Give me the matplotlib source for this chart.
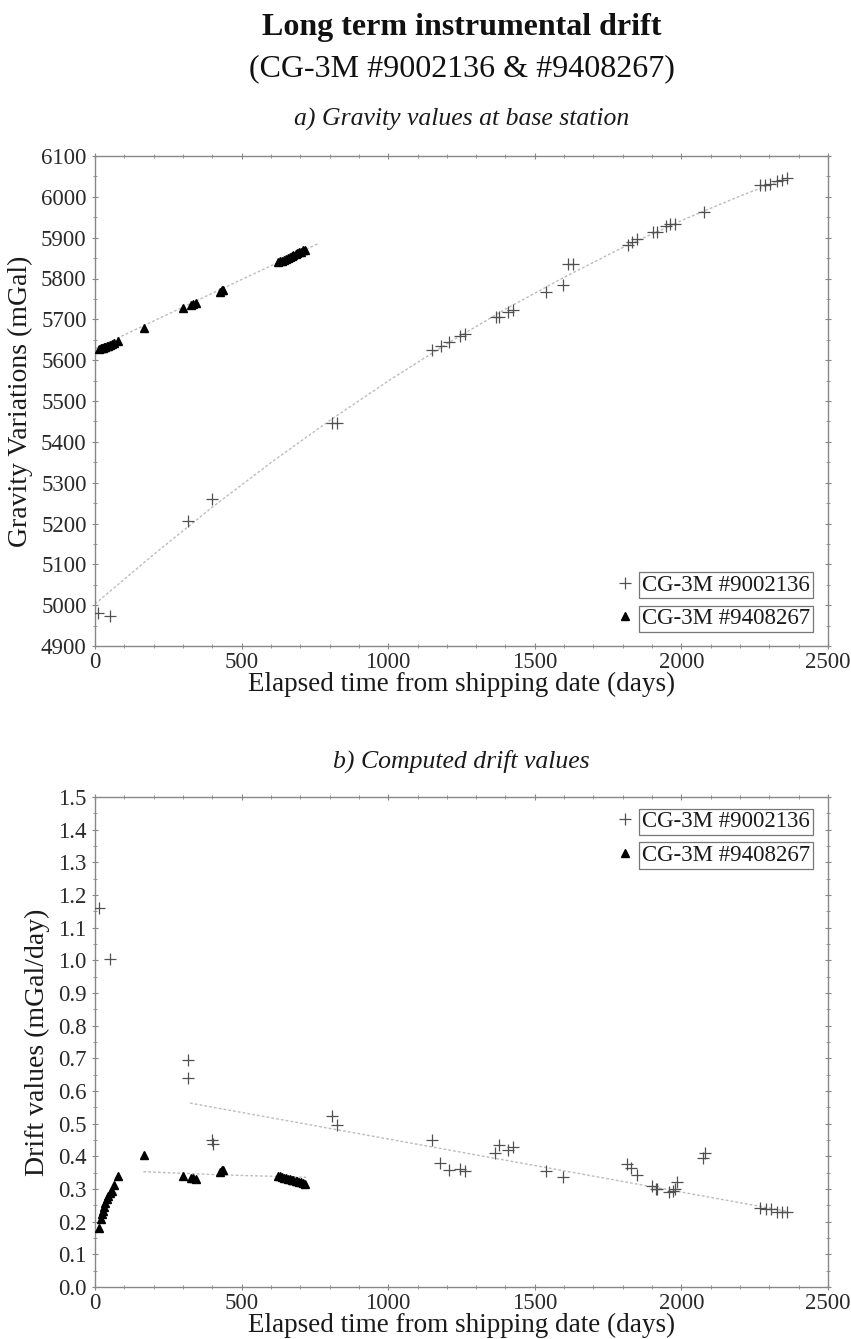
import matplotlib
matplotlib.use("Agg")
import matplotlib.pyplot as plt
from matplotlib.ticker import MultipleLocator

# --- data ---
# CG-3M #9002136 (crosses), panel a: gravity at base station
days_a1 = [11, 51, 318, 398, 810, 825, 1150, 1179, 1207, 1245, 1262, 1367, 1378,
           1410, 1425, 1538, 1595, 1614, 1631, 1817, 1833, 1848, 1904, 1916, 1946,
           1961, 1978, 2077, 2268, 2285, 2302, 2325, 2342, 2359]
grav_a1 = [4981, 4973, 5207, 5259, 5447, 5447, 5625, 5634, 5644, 5659, 5665, 5705, 5705,
           5718, 5722, 5767, 5785, 5836, 5836, 5883, 5889, 5896, 5914, 5914, 5928,
           5933, 5934, 5964, 6028, 6030, 6032, 6039, 6042, 6045]

# CG-3M #9408267 (triangles), panel a
days_a2 = [14, 19, 23, 27, 31, 35, 40, 45, 50, 57, 65, 80, 167, 301, 327, 335, 344,
           426, 432, 435, 625, 632, 638, 645, 651, 658, 664, 671, 677, 684, 690, 697,
           703, 710, 716]
grav_a2 = [5628, 5629, 5630, 5631, 5632, 5633, 5634, 5635, 5637, 5639, 5641, 5646, 5678,
           5728, 5736, 5738, 5741, 5768, 5771, 5773, 5840, 5842, 5844, 5846, 5848, 5851,
           5853, 5855, 5857, 5860, 5862, 5864, 5866, 5869, 5871]

# fitted curves, panel a
fit_days_a1 = [0, 200, 400, 600, 800, 1000, 1200, 1400, 1600, 1800, 2000, 2200, 2360]
fit_grav_a1 = [5003, 5124, 5240, 5349, 5452, 5549, 5640, 5725, 5803, 5876, 5942, 6002, 6046]
fit_days_a2 = [0, 380, 760]
fit_grav_a2 = [5628, 5757, 5885]

# panel b: computed drift values
days_b1 = [14, 51, 316, 318, 399, 401, 807, 826, 1150, 1178, 1207, 1245, 1262, 1364,
           1379, 1410, 1425, 1538, 1595, 1814, 1829, 1848, 1901, 1913, 1917, 1958,
           1970, 1978, 1986, 2075, 2080, 2268, 2287, 2304, 2325, 2342, 2359]
drift_b1 = [1.16, 1.004, 0.695, 0.64, 0.449, 0.439, 0.525, 0.497, 0.449, 0.381, 0.357,
            0.361, 0.356, 0.410, 0.436, 0.418, 0.430, 0.354, 0.337, 0.377, 0.364, 0.344,
            0.310, 0.300, 0.300, 0.290, 0.293, 0.300, 0.320, 0.395, 0.410, 0.242, 0.239,
            0.239, 0.231, 0.231, 0.231]

days_b2 = days_a2
drift_b2 = [0.180, 0.208, 0.222, 0.234, 0.246, 0.257, 0.268, 0.278, 0.288, 0.295, 0.313,
            0.339, 0.403, 0.339, 0.334, 0.333, 0.331, 0.352, 0.357, 0.359, 0.341, 0.339,
            0.337, 0.335, 0.334, 0.332, 0.330, 0.329, 0.327, 0.325, 0.323, 0.321, 0.320,
            0.318, 0.316]

fit_days_b1 = [324, 2360]
fit_drift_b1 = [0.563, 0.232]
fit_days_b2 = [165, 440, 720]
fit_drift_b2 = [0.353, 0.343, 0.336]

label1 = "CG-3M #9002136"
label2 = "CG-3M #9408267"

plt.rcParams['font.family'] = ['Liberation Serif', 'DejaVu Serif']

W, H = 851, 1339
fig = plt.figure(figsize=(W / 100, H / 100), dpi=100)

SPINE = '#888888'
CROSS = '#505050'
FIT = '#bdbdbd'


def px_axes(left, top, right, bottom):
    return fig.add_axes([left / W, 1 - bottom / H, (right - left) / W, (bottom - top) / H])


def style_axes(ax):
    for s in ax.spines.values():
        s.set_color(SPINE)
        s.set_linewidth(1.0)
    ax.tick_params(which='both', direction='inout', colors=SPINE, labelcolor='#2a2a2a',
                   top=True, right=True, labelsize=16.5)
    ax.tick_params(which='major', length=5, width=0.8)
    ax.tick_params(which='minor', length=3, width=0.6)
    ax.tick_params(axis='x', pad=2)
    ax.xaxis.set_major_locator(MultipleLocator(500))
    ax.xaxis.set_minor_locator(MultipleLocator(100))
    ax.set_xlim(0, 2500)


def boxed_legend(ax, **kw):
    leg = ax.legend(frameon=False, fontsize=16.5, handlelength=0.5, handletextpad=0.5,
                    labelspacing=0.55, borderpad=0.1, borderaxespad=0.2, **kw)
    for t in leg.get_texts():
        t.set_color('#1a1a1a')
        t.set_bbox(dict(boxstyle='square,pad=0.12', fc='white', ec='#777777', lw=0.9))
    return leg


def data_marks(ax, d1, v1, d2, v2, fd1, fv1, fd2, fv2):
    ax.plot(fd1, fv1, linestyle=(0, (2, 1.5)), color=FIT, lw=1.0, zorder=1)
    ax.plot(fd2, fv2, linestyle=(0, (2, 1.5)), color=FIT, lw=1.0, zorder=1)
    ax.plot(d1, v1, linestyle='none', marker='+', ms=9, mew=0.9, color=CROSS,
            label=label1, zorder=3)
    ax.plot(d2, v2, linestyle='none', marker='^', ms=5.5, color='black',
            label=label2, zorder=3)


# titles
cx = ((95 + 828) / 2) / W
fig.text(cx, 1 - 35 / H, "Long term instrumental drift", ha='center', va='baseline',
         fontsize=23, fontweight='bold', color='#111111')
fig.text(cx, 1 - 76 / H, "(CG-3M #9002136 & #9408267)", ha='center', va='baseline',
         fontsize=23, color='#111111')

# panel a
ax1 = px_axes(95, 156, 828, 646)
style_axes(ax1)
data_marks(ax1, days_a1, grav_a1, days_a2, grav_a2,
           fit_days_a1, fit_grav_a1, fit_days_a2, fit_grav_a2)
ax1.set_ylim(4900, 6100)
ax1.yaxis.set_major_locator(MultipleLocator(100))
ax1.yaxis.set_minor_locator(MultipleLocator(50))
ax1.set_ylabel("Gravity Variations (mGal)", fontsize=20, color='#1a1a1a', labelpad=6)
ax1.set_xlabel("Elapsed time from shipping date (days)", fontsize=19.5, color='#1a1a1a',
               labelpad=-1)
boxed_legend(ax1, loc='lower right', bbox_to_anchor=(0.985, 0.02))
fig.text(cx, 1 - 126 / H, "a) Gravity values at base station", ha='center', va='baseline',
         fontsize=18.5, style='italic', color='#1a1a1a')

# panel b
ax2 = px_axes(95, 797, 828, 1287)
style_axes(ax2)
data_marks(ax2, days_b1, drift_b1, days_b2, drift_b2,
           fit_days_b1, fit_drift_b1, fit_days_b2, fit_drift_b2)
ax2.set_ylim(0, 1.5)
ax2.yaxis.set_major_locator(MultipleLocator(0.1))
ax2.yaxis.set_minor_locator(MultipleLocator(0.05))
ax2.yaxis.set_major_formatter(plt.FormatStrFormatter('%.1f'))
ax2.set_ylabel("Drift values (mGal/day)", fontsize=20, color='#1a1a1a', labelpad=6)
ax2.set_xlabel("Elapsed time from shipping date (days)", fontsize=19.5, color='#1a1a1a',
               labelpad=-1)
boxed_legend(ax2, loc='upper right', bbox_to_anchor=(0.985, 0.985))
fig.text(cx, 1 - 768 / H, "b) Computed drift values", ha='center', va='baseline',
         fontsize=18.5, style='italic', color='#1a1a1a')

fig.savefig("out.png", dpi=100, facecolor='white')
